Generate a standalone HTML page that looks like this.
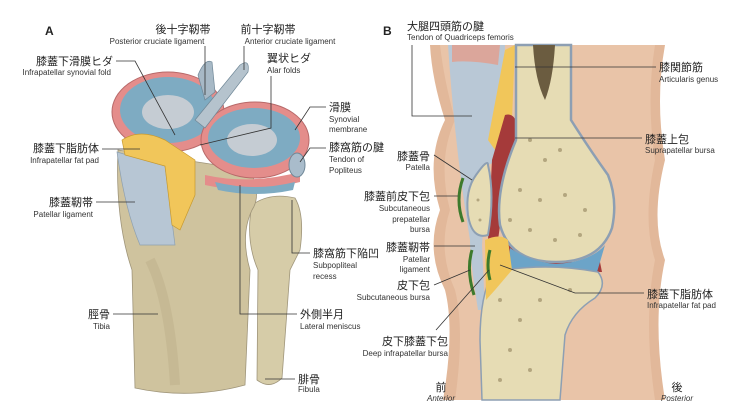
<!DOCTYPE html>
<html><head><meta charset="utf-8"><style>
html,body{margin:0;padding:0;background:#fff}
svg{display:block}
text{font-family:"Liberation Sans","Noto Sans CJK JP",sans-serif;fill:#222}
.j{font-size:11px}
.e{font-size:8px;fill:#333}
.l{stroke:#333;stroke-width:0.8;fill:none}
</style></head><body>
<svg width="742" height="410" viewBox="0 0 742 410" xmlns="http://www.w3.org/2000/svg">
<!-- ============ PANEL A ============ -->
<path d="M252,205 Q270,192 295,198 Q305,215 300,250 L290,270 L282,378 Q270,390 257,380 L258,270 Q245,240 252,205Z" fill="#d6cca8" stroke="#9f957a" stroke-width="0.8"/>
<path d="M118,150 L250,170 Q262,195 252,210 Q240,235 250,270 L245,385 Q190,400 135,388 L132,270 Q115,220 118,150Z" fill="#cfc39e" stroke="#9f957a" stroke-width="0.8"/>
<path d="M150,260 Q170,300 175,385" stroke="#bdb08a" stroke-width="10" fill="none" opacity="0.5"/>
<ellipse cx="168" cy="112" rx="56" ry="40" fill="#e48d8b" stroke="#b86a6a"/>
<ellipse cx="168" cy="110" rx="48" ry="33" fill="#7eabc2"/>
<ellipse cx="168" cy="112" rx="26" ry="17" fill="#c5ccd3"/>
<ellipse cx="255" cy="140" rx="54" ry="38" fill="#e48d8b" stroke="#b86a6a"/>
<ellipse cx="254" cy="138" rx="46" ry="30" fill="#7eabc2"/>
<ellipse cx="252" cy="140" rx="25" ry="16" fill="#c5ccd3"/>
<path d="M205,175 Q250,185 300,172 L300,182 Q250,195 205,185Z" fill="#e48d8b"/>
<path d="M215,182 Q255,192 295,182 L293,190 Q255,198 218,190Z" fill="#7eabc2"/>
<ellipse cx="297" cy="165" rx="8" ry="12" fill="#a9bccb" stroke="#6f8797"/>
<path d="M198,75 Q205,58 212,62 L215,92 L205,100Z" fill="#a7b9c6" stroke="#6f8797" stroke-width="0.7"/>
<path d="M195,120 L240,65 Q250,58 248,72 L205,128Z" fill="#b5c3cd" stroke="#6f8797" stroke-width="0.7"/>
<path d="M117,152 L165,166 L175,245 L140,245 Q125,210 117,152Z" fill="#b7c6d4" stroke="#8ea0b0" stroke-width="0.7"/>
<path d="M122,140 Q140,128 165,140 L195,160 L195,195 L180,230 L172,225 L165,166 L125,155Z" fill="#f1c65a" stroke="#c79a30" stroke-width="0.7"/>
<text x="45" y="35" style="font-size:12px;font-weight:bold">A</text>
<text x="183" y="33" class="j" text-anchor="middle">後十字靭帯</text>
<text x="157" y="44" class="e" text-anchor="middle">Posterior cruciate ligament</text>
<text x="268" y="33" class="j" text-anchor="middle">前十字靭帯</text>
<text x="290" y="44" class="e" text-anchor="middle">Anterior cruciate ligament</text>
<text x="113" y="65" class="j" text-anchor="end">膝蓋下滑膜ヒダ</text>
<text x="111" y="75" class="e" text-anchor="end">Infrapatellar synovial fold</text>
<text x="267" y="62" class="j">翼状ヒダ</text>
<text x="267" y="73" class="e">Alar folds</text>
<text x="329" y="111" class="j">滑膜</text>
<text x="329" y="122" class="e">Synovial</text>
<text x="329" y="132" class="e">membrane</text>
<text x="329" y="151" class="j">膝窩筋の腱</text>
<text x="329" y="162" class="e">Tendon of</text>
<text x="329" y="173" class="e">Popliteus</text>
<text x="99" y="152" class="j" text-anchor="end">膝蓋下脂肪体</text>
<text x="99" y="163" class="e" text-anchor="end">Infrapatellar fat pad</text>
<text x="93" y="206" class="j" text-anchor="end">膝蓋靭帯</text>
<text x="93" y="217" class="e" text-anchor="end">Patellar ligament</text>
<text x="313" y="257" class="j">膝窩筋下陥凹</text>
<text x="313" y="268" class="e">Subpopliteal</text>
<text x="313" y="279" class="e">recess</text>
<text x="110" y="318" class="j" text-anchor="end">脛骨</text>
<text x="110" y="329" class="e" text-anchor="end">Tibia</text>
<text x="300" y="318" class="j">外側半月</text>
<text x="300" y="329" class="e">Lateral meniscus</text>
<text x="298" y="383" class="j">腓骨</text>
<text x="298" y="392" class="e">Fibula</text>
<path class="l" d="M205,46 L205,95"/>
<path class="l" d="M244,46 L244,70"/>
<path class="l" d="M116,61 L135,61 L175,135"/>
<path class="l" d="M271,76 L271,128 L200,145"/>
<path class="l" d="M326,107 L310,107 L295,130"/>
<path class="l" d="M326,148 L310,148 L300,162"/>
<path class="l" d="M102,149 L140,149"/>
<path class="l" d="M96,202 L135,202"/>
<path class="l" d="M310,253 L292,253 L292,200"/>
<path class="l" d="M113,314 L158,314"/>
<path class="l" d="M297,314 L240,314 L240,185"/>
<path class="l" d="M295,379 L265,379"/>
<!-- ============ PANEL B ============ -->
<path d="M430,45 L665,45 Q655,100 665,160 Q650,220 665,260 Q652,320 665,400 L443,400 Q455,330 445,290 Q425,250 440,210 Q425,160 445,120 Q432,80 430,45Z" fill="#e2b89a"/>
<path d="M440,45 L655,45 Q646,100 655,160 Q642,220 655,260 Q643,320 655,400 L455,400 Q465,330 455,290 Q437,250 450,210 Q437,160 455,120 Q444,80 440,45Z" fill="#e9c4a8"/>
<path d="M448,45 L505,45 L500,160 L488,165 L482,245 L485,310 L478,310 Q470,260 470,240 Q455,150 448,45Z" fill="#b9c8d6"/>
<path d="M452,45 L500,45 L498,65 Q470,60 452,62Z" fill="#e39d8c" opacity="0.8"/>
<path d="M505,50 L515,45 L512,120 L495,150 L488,140Z" fill="#f1c65a"/>
<!-- bursa cavity -->
<path d="M505,115 Q520,110 520,150 L505,190 L498,240 L488,240 L492,160Z" fill="#a53a3a"/>
<path d="M500,240 Q530,255 560,262 L600,262 L602,272 L500,272Z" fill="#a53a3a"/>
<!-- femur -->
<path d="M516,45 L571,45 L571,120 Q590,150 608,175 Q618,200 612,228 Q600,262 556,262 Q510,262 500,225 Q495,190 516,140Z" fill="#e6dcb4" stroke="#8d9fb3" stroke-width="2.5"/>
<path d="M533,45 L555,45 Q553,80 545,100 Q535,80 533,45Z" fill="#6b5c40"/>
<!-- articular blue -->
<path d="M510,248 Q530,262 556,264 Q590,262 605,245 L600,262 L597,272 L508,272Z" fill="#6ca4c8"/>
<!-- tibia -->
<path d="M493,272 Q545,262 598,272 Q608,285 595,298 Q572,312 565,335 L560,400 L482,400 L480,340 Q480,295 493,272Z" fill="#e6dcb4" stroke="#8d9fb3" stroke-width="1.5"/>
<path d="M485,240 Q500,233 508,240 L512,270 L495,290 L486,300Z" fill="#f1c65a"/>
<!-- patella -->
<path d="M476,175 Q488,158 488,165 Q495,195 488,235 Q472,240 468,215 Q465,190 476,175Z" fill="#e6dcb4" stroke="#8d9fb3" stroke-width="2"/>
<g fill="#8b7a55" opacity="0.55">
<circle cx="530" cy="140" r="2"/><circle cx="545" cy="160" r="2"/><circle cx="560" cy="150" r="2"/><circle cx="520" cy="190" r="2"/><circle cx="540" cy="200" r="2"/><circle cx="565" cy="195" r="2"/><circle cx="585" cy="210" r="2"/><circle cx="510" cy="220" r="2"/><circle cx="530" cy="230" r="2"/><circle cx="555" cy="240" r="2"/><circle cx="580" cy="235" r="2"/><circle cx="500" cy="300" r="2"/><circle cx="520" cy="320" r="2"/><circle cx="540" cy="300" r="2"/><circle cx="510" cy="350" r="2"/><circle cx="530" cy="370" r="2"/><circle cx="500" cy="380" r="2"/><circle cx="570" cy="290" r="2"/><circle cx="478" cy="200" r="1.5"/><circle cx="480" cy="220" r="1.5"/>
</g>
<path d="M463,178 Q455,200 463,222" stroke="#3d7a2c" stroke-width="3" fill="none"/>
<path d="M472,250 Q466,270 474,295" stroke="#3d7a2c" stroke-width="3" fill="none"/>
<path d="M490,250 Q486,265 490,280" stroke="#3d7a2c" stroke-width="3" fill="none"/>
<text x="383" y="35" style="font-size:12px;font-weight:bold">B</text>
<text x="407" y="30" class="j">大腿四頭筋の腱</text>
<text x="407" y="40" class="e">Tendon of Quadriceps femoris</text>
<text x="659" y="71" class="j">膝関節筋</text>
<text x="659" y="82" class="e">Articularis genus</text>
<text x="645" y="143" class="j">膝蓋上包</text>
<text x="645" y="153" class="e">Suprapatellar bursa</text>
<text x="430" y="160" class="j" text-anchor="end">膝蓋骨</text>
<text x="430" y="170" class="e" text-anchor="end">Patella</text>
<text x="430" y="200" class="j" text-anchor="end">膝蓋前皮下包</text>
<text x="430" y="211" class="e" text-anchor="end">Subcutaneous</text>
<text x="430" y="222" class="e" text-anchor="end">prepatellar</text>
<text x="430" y="232" class="e" text-anchor="end">bursa</text>
<text x="430" y="251" class="j" text-anchor="end">膝蓋靭帯</text>
<text x="430" y="262" class="e" text-anchor="end">Patellar</text>
<text x="430" y="272" class="e" text-anchor="end">ligament</text>
<text x="430" y="289" class="j" text-anchor="end">皮下包</text>
<text x="430" y="300" class="e" text-anchor="end">Subcutaneous bursa</text>
<text x="448" y="345" class="j" text-anchor="end">皮下膝蓋下包</text>
<text x="448" y="356" class="e" text-anchor="end">Deep infrapatellar bursa</text>
<text x="647" y="298" class="j">膝蓋下脂肪体</text>
<text x="647" y="308" class="e">Infrapatellar fat pad</text>
<text x="441" y="391" class="j" text-anchor="middle">前</text>
<text x="441" y="401" class="e" text-anchor="middle" font-style="italic">Anterior</text>
<text x="677" y="391" class="j" text-anchor="middle">後</text>
<text x="677" y="401" class="e" text-anchor="middle" font-style="italic">Posterior</text>
<path class="l" d="M412,45 L412,116 L472,116"/>
<path class="l" d="M656,67 L515,67"/>
<path class="l" d="M642,138 L515,138"/>
<path class="l" d="M434,155 L472,180"/>
<path class="l" d="M434,196 L458,196"/>
<path class="l" d="M434,246 L475,246"/>
<path class="l" d="M434,285 L470,270"/>
<path class="l" d="M436,330 L489,270"/>
<path class="l" d="M644,293 L575,293 L500,265"/>
</svg>
</body></html>
